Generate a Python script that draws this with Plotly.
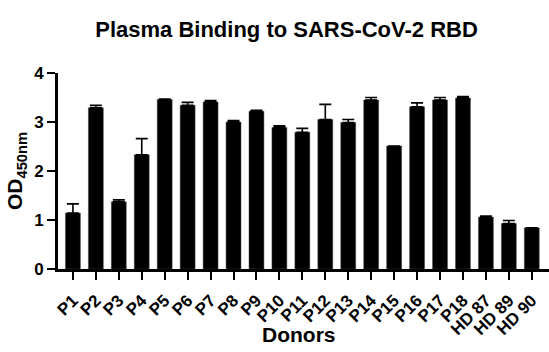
import plotly.graph_objects as go

donors = ["P1","P2","P3","P4","P5","P6","P7","P8","P9","P10","P11","P12","P13","P14","P15","P16","P17","P18","HD 87","HD 89","HD 90"]
od450 = [1.14,3.29,1.37,2.33,3.46,3.34,3.41,3.00,3.22,2.89,2.79,3.05,2.99,3.45,2.51,3.31,3.45,3.49,1.06,0.93,0.84]
err_up = [0.19,0.05,0.04,0.33,0.01,0.06,0.03,0.03,0.02,0.03,0.08,0.31,0.06,0.05,0.0,0.08,0.05,0.03,0.02,0.06,0.0]
y_ticks = [0, 1, 2, 3, 4]

FONT = "Liberation Sans, Arial, sans-serif"

fig = go.Figure(go.Bar(
    x=donors, y=od450,
    marker=dict(color="black", line=dict(color="#444", width=0.5)),
    width=0.65,
    error_y=dict(type="data", symmetric=False, array=err_up, arrayminus=[0]*len(err_up),
                 color="black", thickness=1.6, width=6),
))

fig.update_layout(
    width=549, height=352,
    margin=dict(l=58, r=0, t=73, b=83),
    plot_bgcolor="white", paper_bgcolor="white",
    showlegend=False,
    title=dict(text="Plasma Binding to SARS-CoV-2 RBD", x=0.522, xanchor="center",
               y=0.918, yanchor="middle",
               font=dict(family=FONT, size=22, color="black", weight="bold")),
    font=dict(family=FONT, color="black"),
    annotations=[dict(text="Donors", xref="paper", yref="paper", x=0.49, y=-0.335,
                      xanchor="center", yanchor="middle", showarrow=False,
                      font=dict(family=FONT, size=21, color="black", weight="bold"))],
)
fig.update_xaxes(
    range=[-0.65, 20.75], showline=True, linecolor="black", linewidth=3,
    ticks="outside", ticklen=8, tickwidth=2, tickcolor="black",
    tickangle=-45, ticklabelstandoff=4,
    tickfont=dict(family=FONT, size=17, color="black", weight="bold"),
    showgrid=False, zeroline=False,
)
fig.update_yaxes(
    range=[0, 4], tickvals=y_ticks, showline=True, linecolor="black", linewidth=3,
    ticks="outside", ticklen=8, tickwidth=2, tickcolor="black",
    tickfont=dict(family=FONT, size=17, color="black", weight="bold"),
    title=dict(text="OD<sub>450nm</sub>", font=dict(family=FONT, size=21, color="black", weight="bold"), standoff=6),
    showgrid=False, zeroline=False,
)

fig.write_html("out.html")
